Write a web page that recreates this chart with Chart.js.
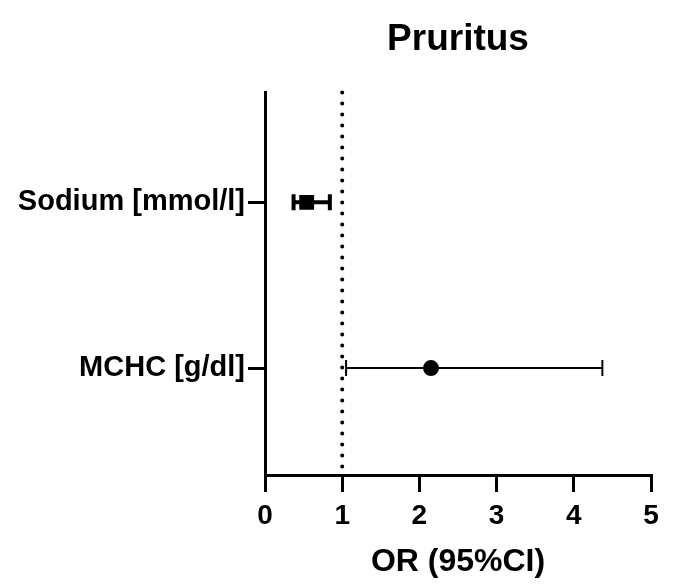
<!DOCTYPE html>
<html>
<head>
<meta charset="utf-8">
<script src="https://cdn.jsdelivr.net/npm/chart.js@4"></script>
<style>
  body { margin: 0; background: #fff; }
</style>
</head>
<body>
<canvas id="forest" width="677" height="587"></canvas>
<script>
// Values
const labels = ['Sodium [mmol/l]', 'MCHC [g/dl]'];
const oddsRatio = [0.54, 2.15];
const lowerCI = [0.37, 1.05];
const upperCI = [0.84, 4.37];
const markerStyle = ['rect', 'circle'];
const xTicks = [0, 1, 2, 3, 4, 5];
const refValue = 1;

const yMin = 0.337, yMax = 2.645;
const font = 'Liberation Sans, Arial, sans-serif';

const datasets = [];

// dotted reference line at OR = 1
datasets.push({
    type: 'line',
    data: [{ x: refValue, y: yMin }, { x: refValue, y: yMax }],
    borderColor: '#000',
    borderWidth: 4,
    borderDash: [0, 11],
    borderCapStyle: 'round',
    pointRadius: 0,
    clip: false
});

// error bars with end caps
labels.forEach((name, i) => {
    const w = i === 0 ? 4 : 2;
    datasets.push({
        type: 'line',
        data: [{ x: lowerCI[i], y: i + 1 }, { x: upperCI[i], y: i + 1 }],
        borderColor: '#000',
        borderWidth: w,
        pointStyle: 'line',
        pointRotation: 90,
        pointRadius: 8,
        pointBorderWidth: w,
        pointBorderColor: '#000'
    });
});

// point estimates
labels.forEach((name, i) => {
    datasets.push({
        type: 'scatter',
        data: [{ x: oddsRatio[i], y: i + 1 }],
        pointStyle: markerStyle[i],
        pointRadius: markerStyle[i] === 'rect' ? 10.5 : 8,
        backgroundColor: '#000',
        borderColor: '#000',
        borderWidth: 0
    });
});

new Chart(document.getElementById('forest'), {
    type: 'scatter',
    data: { datasets: datasets },
    options: {
        responsive: false,
        animation: false,
        layout: { padding: { left: 0, right: 26, top: 0, bottom: 2 } },
        plugins: {
            legend: { display: false },
            tooltip: { enabled: false },
            title: {
                display: true,
                text: 'Pruritus',
                fullSize: false,
                color: '#000',
                font: { family: font, size: 37, weight: 'bold' },
                padding: { top: 18, bottom: 30 }
            }
        },
        scales: {
            x: {
                type: 'linear',
                min: 0,
                max: 5,
                afterBuildTicks: scale => { scale.ticks = xTicks.map(v => ({ value: v })); },
                afterFit: scale => { scale.height = 110; },
                ticks: {
                    color: '#000',
                    padding: 7,
                    font: { family: font, size: 28, weight: 'bold' }
                },
                grid: {
                    drawOnChartArea: false,
                    tickLength: 17,
                    lineWidth: 3,
                    color: '#000'
                },
                border: { color: '#000', width: 3 },
                title: {
                    display: true,
                    text: 'OR (95%CI)',
                    color: '#000',
                    font: { family: font, size: 32, weight: 'bold' },
                    padding: { top: 0, bottom: 4 }
                }
            },
            y: {
                type: 'linear',
                min: yMin,
                max: yMax,
                reverse: true,
                afterBuildTicks: scale => { scale.ticks = labels.map((l, i) => ({ value: i + 1 })); },
                afterFit: scale => { scale.width = 265; },
                ticks: {
                    color: '#000',
                    padding: 3,
                    font: { family: font, size: 29, weight: 'bold' },
                    callback: v => labels[v - 1]
                },
                grid: {
                    drawOnChartArea: false,
                    tickLength: 17,
                    lineWidth: 3,
                    color: '#000'
                },
                border: { color: '#000', width: 3 }
            }
        }
    }
});
</script>
</body>
</html>
